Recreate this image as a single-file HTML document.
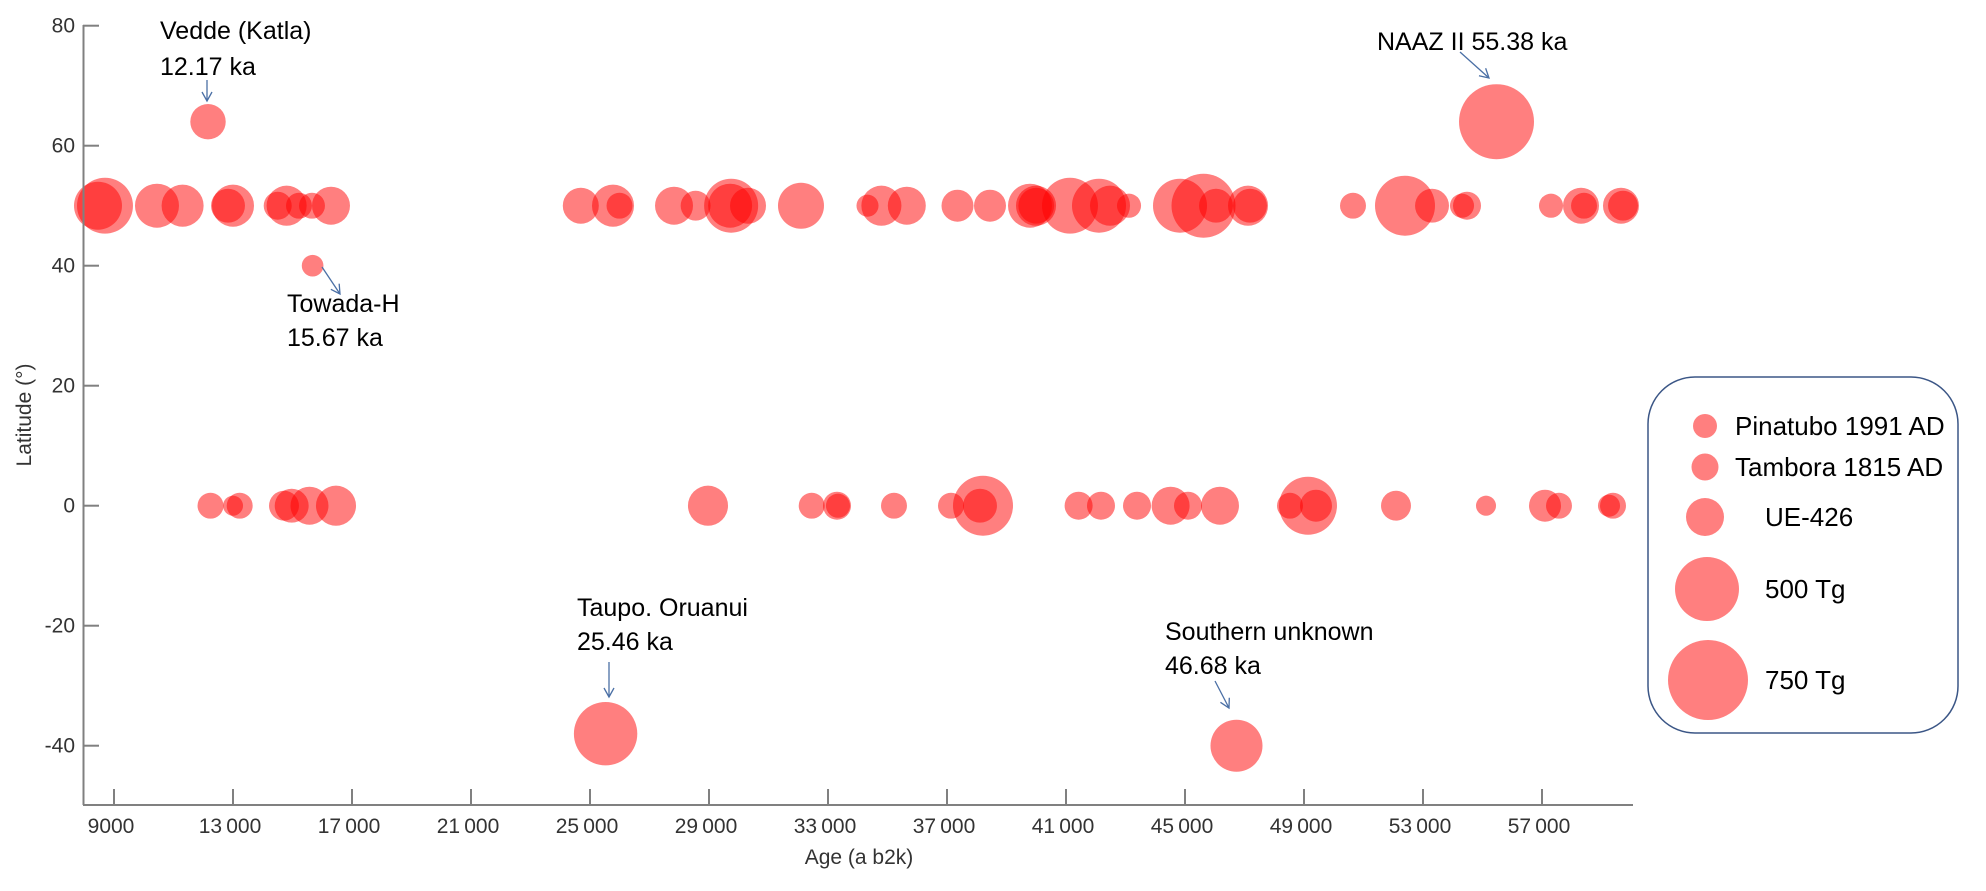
<!DOCTYPE html>
<html><head><meta charset="utf-8"><style>
html,body{margin:0;padding:0;background:#fff}
svg{display:block}
.tick{font-family:"Liberation Sans",sans-serif;font-size:21px;fill:#333}
.ann{font-family:"Liberation Sans",sans-serif;font-size:25px;fill:#000}
.leg{font-family:"Liberation Sans",sans-serif;font-size:26px;fill:#000}
</style></head><body>
<svg id="chart" width="1986" height="891" viewBox="0 0 1986 891" xmlns="http://www.w3.org/2000/svg">
<defs><marker id="ah" markerWidth="12" markerHeight="12" refX="10" refY="6" orient="auto" markerUnits="userSpaceOnUse"><path d="M1,1 L10,6 L1,11" fill="none" stroke="#4a6fa5" stroke-width="1.3"/></marker></defs>
<g id="bubbles"></g>
<g id="axes"></g>
<text x="0" y="0" transform="translate(31,415) rotate(-90)" text-anchor="middle" class="tick">Latitude (°)</text>
<text x="859" y="864" text-anchor="middle" class="tick">Age (a b2k)</text>
<g>
<text x="160" y="39" class="ann">Vedde (Katla)</text>
<text x="160" y="75" class="ann">12.17 ka</text>
<line x1="207" y1="80" x2="207" y2="101" stroke="#4a6fa5" stroke-width="1.3" marker-end="url(#ah)"/>
<text x="287" y="312" class="ann">Towada-H</text>
<text x="287" y="346" class="ann">15.67 ka</text>
<line x1="322" y1="267" x2="340" y2="294" stroke="#4a6fa5" stroke-width="1.3" marker-end="url(#ah)"/>
<text x="577" y="616" class="ann">Taupo. Oruanui</text>
<text x="577" y="650" class="ann">25.46 ka</text>
<line x1="609" y1="662" x2="609" y2="697" stroke="#4a6fa5" stroke-width="1.3" marker-end="url(#ah)"/>
<text x="1165" y="640" class="ann">Southern unknown</text>
<text x="1165" y="674" class="ann">46.68 ka</text>
<line x1="1215" y1="681" x2="1229" y2="708" stroke="#4a6fa5" stroke-width="1.3" marker-end="url(#ah)"/>
<text x="1377" y="50" class="ann">NAAZ II  55.38 ka</text>
<line x1="1460" y1="52" x2="1489" y2="78" stroke="#4a6fa5" stroke-width="1.3" marker-end="url(#ah)"/>
</g>
<g>
<rect x="1648" y="377" width="310" height="356" rx="47" ry="47" fill="#fff" stroke="#3b5686" stroke-width="1.5"/>
<circle cx="1705" cy="426" r="12" fill="#ff0000" fill-opacity="0.5"/>
<text x="1735" y="435" class="leg">Pinatubo 1991 AD</text>
<circle cx="1705" cy="467" r="13.5" fill="#ff0000" fill-opacity="0.5"/>
<text x="1735" y="476" class="leg">Tambora 1815 AD</text>
<circle cx="1705" cy="517" r="19" fill="#ff0000" fill-opacity="0.5"/>
<text x="1765" y="526" class="leg">UE-426</text>
<circle cx="1707" cy="589" r="32" fill="#ff0000" fill-opacity="0.5"/>
<text x="1765" y="598" class="leg">500 Tg</text>
<circle cx="1708" cy="680" r="40" fill="#ff0000" fill-opacity="0.5"/>
<text x="1765" y="689" class="leg">750 Tg</text>
</g>
</svg>
<script>
const ages50 = [8462,8697,10445,11306,12832,13000,14503,14802,15218,15655,16294,24691,25773,25992,27824,28550,29744,29710,30311,32092,34328,34795,35649,37353,38445,39790,39992,40000,41134,42109,42479,43118,44832,45622,46042,47118,47185,50647,52395,53303,54311,54479,57303,58311,58412,59655,59723];
const tg50 = [270,367,227,207,135,207,92,188,79,79,169,152,207,79,169,105,342,227,152,248,57,188,169,120,120,227,188,150,367,342,188,68,342,480,135,188,135,79,422,135,68,92,68,152,79,152,105];
const ages0 = [12244,13000,13225,14714,14973,15571,16462,28966,32452,33303,33336,35218,37134,38109,38210,41424,42176,43387,44516,45101,46176,48529,49403,49134,52092,55118,57101,57571,59252,59387];
const tg0 = [79,47,79,105,135,169,188,188,79,92,68,79,79,135,422,92,92,92,169,92,169,79,120,394,105,47,120,79,57,79];
const singleAges = [12160,15676,25524,46731,55471];
const singleLats = [64,40,-38,-40,64];
const singleTg = [147,55,471,317,659];
const xTicks = [9000,13000,17000,21000,25000,29000,33000,37000,41000,45000,49000,53000,57000];
const xTickLabels = ["9000","13\u2009000","17\u2009000","21\u2009000","25\u2009000","29\u2009000","33\u2009000","37\u2009000","41\u2009000","45\u2009000","49\u2009000","53\u2009000","57\u2009000"];
const yTicks = [80,60,40,20,0,-20,-40];

const NS = "http://www.w3.org/2000/svg";
function xs(a){ return 114 + (a - 9000) * 0.02975; }
function ys(l){ return 505.7 - l * 6.0; }
function rs(t){ return 40 * Math.sqrt(t / 750); }
const bg = document.getElementById('bubbles');
function bubble(a, l, t, name){
  const c = document.createElementNS(NS, 'circle');
  c.setAttribute('cx', xs(a)); c.setAttribute('cy', ys(l)); c.setAttribute('r', rs(t));
  c.setAttribute('fill', '#ff0000'); c.setAttribute('fill-opacity', '0.5');
  
  
  bg.appendChild(c);
}
ages50.forEach((a,i)=>bubble(a,50,tg50[i],'eruption-lat50-'+i));
ages0.forEach((a,i)=>bubble(a,0,tg0[i],'eruption-lat0-'+i));
singleAges.forEach((a,i)=>bubble(a,singleLats[i],singleTg[i],'eruption-single-'+i));

const ax = document.getElementById('axes');
function el(tag, attrs, txt){
  const e = document.createElementNS(NS, tag);
  for (const k in attrs) e.setAttribute(k, attrs[k]);
  if (txt !== undefined) e.textContent = txt;
  ax.appendChild(e); return e;
}
const yl = el('line',{x1:83.5,y1:25,x2:83.5,y2:805,stroke:'#808080','stroke-width':2});


const xl = el('line',{x1:83,y1:805,x2:1633,y2:805,stroke:'#808080','stroke-width':2});


yTicks.forEach(v=>{
  el('line',{x1:83,y1:ys(v),x2:99,y2:ys(v),stroke:'#808080','stroke-width':2});
  const t = el('text',{x:75,y:ys(v)+7,'text-anchor':'end',class:'tick'}, String(v));
  
  
});
xTicks.forEach((v,i)=>{
  el('line',{x1:xs(v),y1:789,x2:xs(v),y2:805,stroke:'#808080','stroke-width':2});
  const t = el('text',{x:xs(v)-3,y:833,'text-anchor':'middle',class:'tick'}, xTickLabels[i]);
  
  
});
</script>
</body></html>
